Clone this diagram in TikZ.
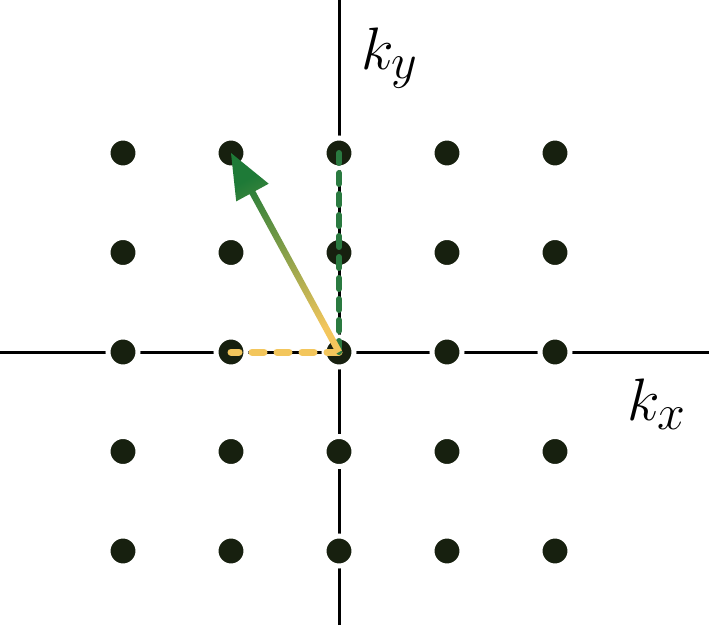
\documentclass[tikz,border=0pt]{standalone}
\usetikzlibrary{calc}
\definecolor{dotcol}{HTML}{17200F}
\definecolor{arrowgreen}{HTML}{1E7A37}
\definecolor{arrowyellow}{HTML}{F3C65C}
\definecolor{dashgreen}{HTML}{2A7A40}
\def\dx{2.16}
\def\dy{1.99}

\begin{document}
\begin{tikzpicture}[
        axis/.style={line width=0.06cm, black},
        latticept/.style={circle, inner sep=0pt, minimum size=0.6cm, fill=dotcol, draw=white, line width=0.1cm},
        ydash/.style={line width=0.14cm, arrowyellow, line cap=round, dash pattern=on 0.24cm off 0.26cm},
        gdash/.style={line width=0.12cm, dashgreen, line cap=round, dash pattern=on 0.22cm off 0.2cm},
        klabel/.style={font=\fontsize{24.88}{30}\selectfont, scale=1.37}
    ]
        \useasboundingbox (-6.78,-5.46) rectangle (7.40,7.04);

        \coordinate (xl) at (-6.78,0);
        \coordinate (xr) at (7.40,0);
        \coordinate (yb) at (0,-5.46);
        \coordinate (yt) at (0,7.04);
        \draw[axis] (xl) -- (xr);
        \draw[axis] (yb) -- (yt);

        \foreach \i in {1,...,5}
            \foreach \j in {1,...,5}
                \node[latticept] (p\i\j) at ({(\i-3)*\dx},{(\j-3)*\dy}) {};

        \draw[ydash] (p33.center) -- (p23.center);
        \draw[gdash] (p33.center) -- (p35.center);

        \coordinate (hb) at ($(p25.center)!0.9cm!(p33.center)$);
        \shade[top color=arrowgreen, bottom color=arrowyellow, shading angle=28.5]
            ($(p33.center)!0.065cm!90:(p25.center)$)
            -- ($(hb)!0.065cm!90:(p25.center)$)
            -- ($(hb)!0.37cm!90:(p25.center)$)
            -- (p25.center)
            -- ($(hb)!0.37cm!-90:(p25.center)$)
            -- ($(hb)!0.065cm!-90:(p25.center)$)
            -- ($(p33.center)!0.065cm!-90:(p25.center)$)
            -- cycle;

        \node[klabel] (ky) at (1.02,5.88) {$k_y$};
        \node[klabel] (kx) at (6.36,-1.04) {$k_x$};
    \end{tikzpicture}
\end{document}
